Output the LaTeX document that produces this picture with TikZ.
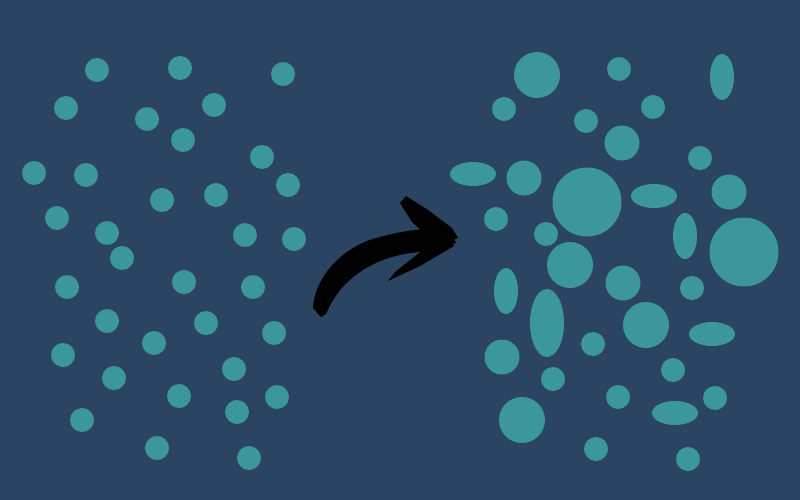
\documentclass[tikz,border=0pt]{standalone}
\usepackage{tikz}
\definecolor{fondo}{HTML}{2A4461}
\definecolor{gota}{HTML}{3C979A}
\tikzset{
    gota/.style={fill=gota},
    pincel/.style={fill=black}
}

\begin{document}
\begin{tikzpicture}[x=1pt, y=-1pt]

    % Fondo
    \fill[fondo] (0,0) rectangle (800,500);

    % Gotas iguales (izquierda)
    \foreach \x/\y in {97/70, 180/68, 283/74, 66/108, 147/119, 214/105,
                       183/140, 262/157, 34/173, 86/175, 288/185, 162/200,
                       216/195, 57/218, 107/233, 245/235, 294/239, 122/258,
                       67/287, 184/282, 253/287, 107/321, 206/323, 274/333,
                       154/343, 63/355, 234/369, 114/378, 179/396, 277/397,
                       237/412, 82/420, 157/448, 249/458}
        \fill[gota] (\x,\y) circle[radius=12pt];

    % Gotas distintas (derecha)
    \foreach \x/\y in {619/69, 504/109, 586/121, 653/107, 700/158, 496/219,
                       546/234, 692/288, 593/344, 553/379, 673/370, 618/397,
                       715/398, 596/449, 688/459}
        \fill[gota] (\x,\y) circle[radius=12pt];
    \foreach \x/\y in {622/143, 524/178, 729/192, 623/283, 502/357}
        \fill[gota] (\x,\y) circle[radius=17.5pt];
    \foreach \x/\y in {537/75, 570/265, 646/325, 522/420}
        \fill[gota] (\x,\y) circle[radius=23pt];
    \foreach \x/\y in {587/202, 744/252}
        \fill[gota] (\x,\y) circle[radius=34.5pt];
    \foreach \x/\y in {473/174, 654/196, 712/334, 675/413}
        \fill[gota] (\x,\y) ellipse[x radius=23pt, y radius=12pt];
    \foreach \x/\y in {722/77, 685/236, 506/291}
        \fill[gota] (\x,\y) ellipse[x radius=12pt, y radius=23pt];
    \fill[gota] (547,323) ellipse[x radius=17pt, y radius=34pt];

    % Flecha de pincel
    \fill[pincel] (313,308) .. controls (315,275) and (345,245) .. (380,237)
        .. controls (395,233) and (410,230) .. (425,229)
        -- (452,234) -- (456,243) -- (420,252)
        .. controls (390,254) and (345,268) .. (326,314)
        -- (321,317) -- cycle;
    \fill[pincel] (400,203) -- (406,196) -- (428,210) -- (452,228)
        -- (458,238) -- (438,246) -- (412,222) -- cycle;
    \fill[pincel] (388,281) -- (395,272) -- (428,246) -- (450,236)
        -- (454,246) -- (420,266) -- cycle;

\end{tikzpicture}
\end{document}
